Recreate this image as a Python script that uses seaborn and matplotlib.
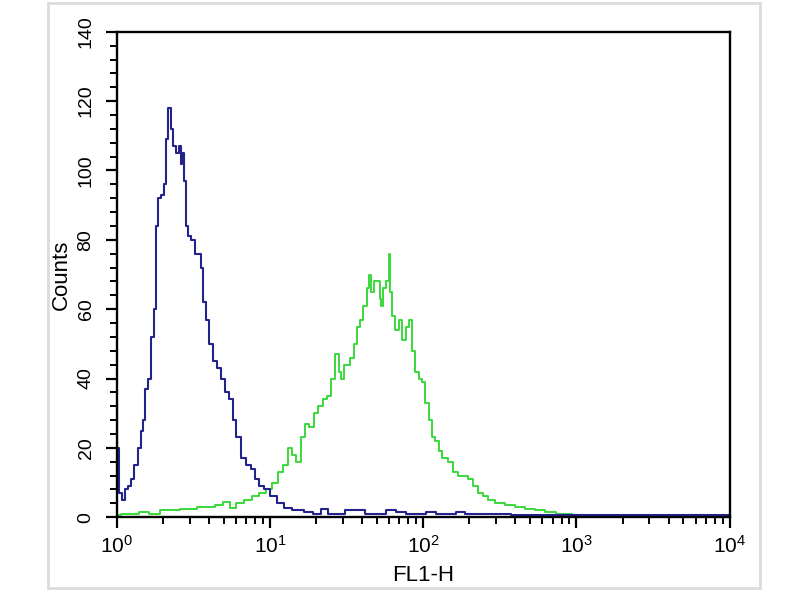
import numpy as np
import pandas as pd
import matplotlib
matplotlib.use("Agg")
import matplotlib.pyplot as plt
from matplotlib.patches import Rectangle
from matplotlib.ticker import LogLocator, MultipleLocator, NullFormatter
import seaborn as sns

# FL1-H channel positions (log10 units) and counts
blue_log = [0.000, 0.007, 0.020, 0.046, 0.065, 0.085, 0.105, 0.124, 0.150, 0.163,
            0.176, 0.196, 0.216, 0.235, 0.248, 0.261, 0.281, 0.301, 0.314, 0.327,
            0.346, 0.359, 0.379, 0.399, 0.412, 0.425, 0.431, 0.444, 0.458, 0.477,
            0.497, 0.523, 0.542, 0.556, 0.575, 0.595, 0.614, 0.641, 0.667, 0.693,
            0.719, 0.739, 0.771, 0.791, 0.824, 0.856, 0.889, 0.915, 0.935, 0.980,
            1.020, 1.065, 1.111, 1.176, 1.26, 1.30, 1.36, 1.40, 1.46, 1.52, 1.59,
            1.65, 1.72, 1.79, 1.85, 1.92, 1.98, 2.05, 2.11, 2.18, 2.24, 2.30, 2.37,
            2.44, 2.50, 2.63, 2.76, 2.90, 3.05, 3.30, 3.60, 4.00]
blue_counts = [33, 20, 7, 5, 8, 9, 11, 15, 20, 25,
               28, 37, 40, 52, 60, 84, 92, 93, 96, 109,
               118, 112, 107, 105, 107, 102, 105, 97, 84, 81,
               80, 76, 76, 72, 62, 57, 50, 45, 43, 40,
               36, 34, 28, 23, 17, 15, 14, 11, 9, 8,
               6, 4, 2.6, 2, 1.5, 1, 2.5, 1, 1, 2, 2,
               1, 1, 2, 1.5, 1, 1, 1.5, 1, 1, 1.5, 1, 0.8,
               1, 1, 0.5, 0.5, 0.5, 0.5, 0.5, 0.5, 0.5]

green_log = [0.00, 0.05, 0.12, 0.17, 0.25, 0.31, 0.39, 0.44, 0.50, 0.54,
             0.61, 0.67, 0.72, 0.76, 0.80, 0.86, 0.90, 0.95, 1.00, 1.03,
             1.07, 1.10, 1.13, 1.16, 1.18, 1.22, 1.24, 1.27, 1.30, 1.33,
             1.36, 1.38, 1.41, 1.44, 1.46, 1.47, 1.50, 1.54, 1.56, 1.58,
             1.60, 1.62, 1.64, 1.65, 1.67, 1.69, 1.71, 1.72, 1.73, 1.75,
             1.77, 1.78, 1.79, 1.80, 1.83, 1.85, 1.87, 1.90, 1.92, 1.93,
             1.96, 1.98, 2.00, 2.02, 2.05, 2.07, 2.09, 2.11, 2.14, 2.18,
             2.21, 2.24, 2.27, 2.31, 2.34, 2.37, 2.41, 2.44, 2.50, 2.57,
             2.63, 2.70, 2.76, 2.83, 2.90, 3.03, 3.30, 3.60, 4.00]
green_counts = [0.5, 1, 1, 1.5, 1, 2, 2, 2.5, 2.5, 3,
                3, 3.5, 4.5, 2.6, 4, 5, 6, 7, 8, 10,
                13, 15, 20, 18, 16, 23, 27, 26, 30, 32,
                34, 35, 40, 47, 42, 40, 44, 46, 50, 55,
                57, 61, 66, 70, 65, 68, 68, 63, 61, 66,
                68, 76, 65, 58, 54, 57, 51, 55, 57, 48,
                42, 40, 39, 33, 28, 23, 22, 19, 17, 16,
                13, 12, 12, 11, 9, 7, 6, 5, 4, 3.5,
                3, 2.5, 2, 1.5, 1, 0.7, 0.5, 0.5, 0.5]

y_ticks = [0, 20, 40, 60, 80, 100, 120, 140]
x_decades = [1, 10, 100, 1000, 10000]

blue_df = pd.DataFrame({"FL1-H": 10 ** np.array(blue_log), "Counts": blue_counts})
green_df = pd.DataFrame({"FL1-H": 10 ** np.array(green_log), "Counts": green_counts})

sns.set_style("ticks")
plt.rcParams["font.family"] = ["Liberation Sans", "DejaVu Sans"]
plt.rcParams["mathtext.fontset"] = "custom"
plt.rcParams["mathtext.rm"] = "Liberation Sans"
plt.rcParams["mathtext.it"] = "Liberation Sans:italic"
plt.rcParams["mathtext.bf"] = "Liberation Sans:bold"
plt.rcParams["text.color"] = "black"
plt.rcParams["axes.labelcolor"] = "black"
plt.rcParams["xtick.color"] = "black"
plt.rcParams["ytick.color"] = "black"

fig = plt.figure(figsize=(8, 6), dpi=100)
ax = fig.add_axes([0.146, 0.138, 0.766, 0.809])

# light frame around the whole picture
fig.patches.append(Rectangle((0.06, 0.02), 0.89, 0.975, transform=fig.transFigure,
                             fill=False, edgecolor="#dcdcdc", linewidth=2))

sns.lineplot(data=green_df, x="FL1-H", y="Counts", ax=ax, color="#3ad93a",
             drawstyle="steps-mid", linewidth=1.4, sort=False)
sns.lineplot(data=blue_df, x="FL1-H", y="Counts", ax=ax, color="#23238c",
             drawstyle="steps-mid", linewidth=1.5, sort=False)

ax.set_xscale("log")
ax.set_xlim(1, 10000)
ax.set_ylim(0, 140)
ax.set_xticks(x_decades)
ax.xaxis.set_minor_locator(LogLocator(base=10, subs=np.arange(2, 10)))
ax.xaxis.set_minor_formatter(NullFormatter())
ax.set_yticks(y_ticks)
ax.yaxis.set_minor_locator(MultipleLocator(4))
ax.set_yticklabels([str(v) for v in y_ticks], rotation=90, va="center", fontsize=14)
ax.tick_params(axis="x", which="major", labelsize=15, length=8, width=1.6, direction="out", pad=5)
ax.tick_params(axis="both", which="minor", length=5, width=1.4, direction="out")
ax.tick_params(axis="y", which="major", length=8, width=1.6, direction="out", pad=8)

for s in ax.spines.values():
    s.set_linewidth(1.7)
    s.set_color("black")

ax.set_xlabel("FL1-H", fontsize=16, labelpad=6)
ax.set_ylabel("Counts", fontsize=16, labelpad=4)

fig.savefig("out.png", dpi=100)
